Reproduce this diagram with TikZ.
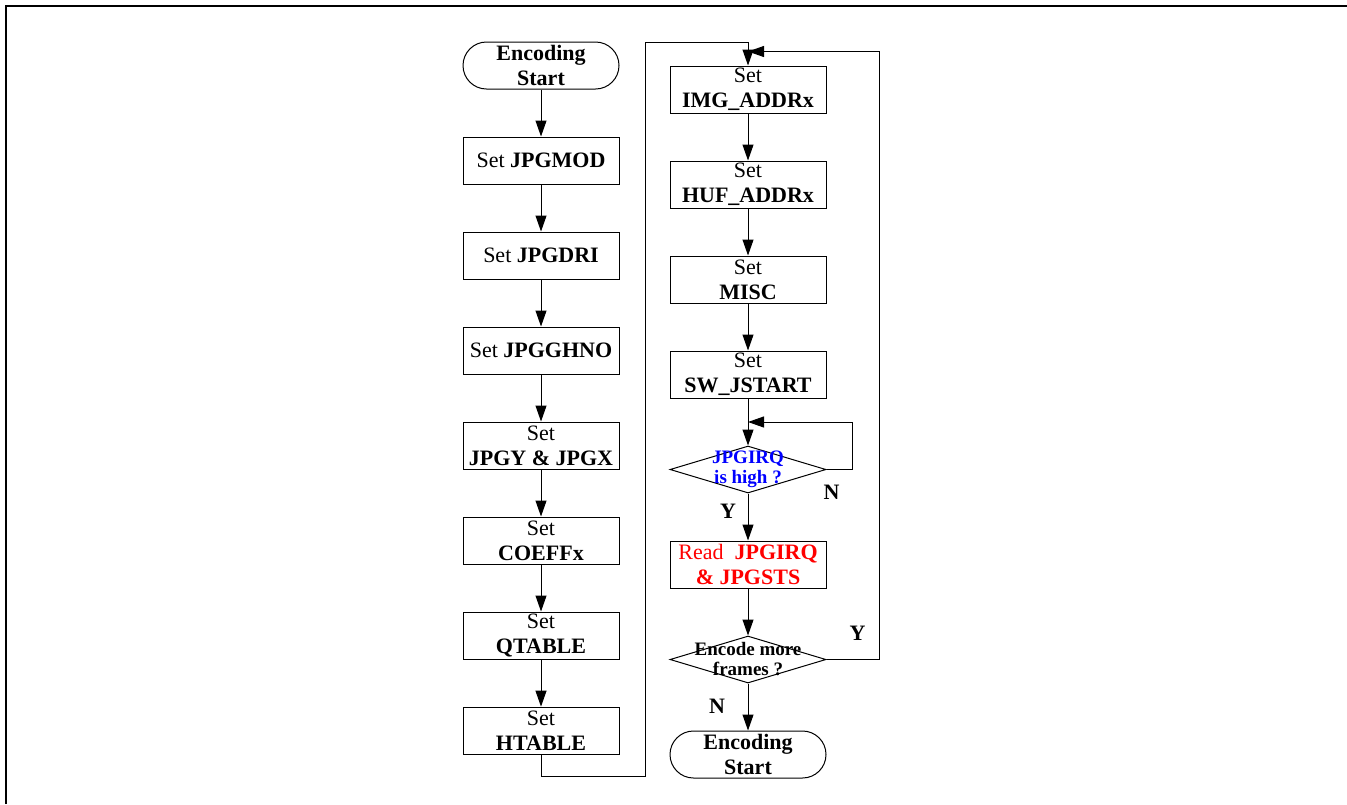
\documentclass[tikz,border=0pt]{standalone}
\usepackage{fontspec}
\setmainfont{Liberation Serif}
\usepackage{xcolor}
\usetikzlibrary{arrows.meta, shapes.geometric, positioning, calc}

\begin{document}
\begin{tikzpicture}[x=0.5pt, y=-0.5pt,
      box/.style={draw, line width=0.5pt, align=center, inner sep=1pt,
                  minimum width=78pt, minimum height=23.5pt,
                  font=\fontsize{11}{12.5}\selectfont},
      term/.style={box, rounded corners=11.75pt, font=\fontsize{11}{12.5}\selectfont\bfseries},
      dec/.style={draw, line width=0.5pt, diamond, inner sep=0pt,
                  minimum width=78pt, minimum height=23.5pt},
      qtext/.style={align=center, inner sep=0pt, font=\fontsize{9.5}{10}\selectfont\bfseries},
      lab/.style={font=\fontsize{11}{12}\selectfont\bfseries, inner sep=0pt},
      arr/.style={line width=0.5pt, -{Triangle[length=8pt, width=5.5pt]}},
      node distance=23.5pt]
    \useasboundingbox (0,0) rectangle (1347,804);
    \draw[line width=1pt] (6,804) |- (1347,6);
    % left column
    \node[term] (start) at (541,65.5) {Encoding\\Start};
    \node[box, below=of start] (jmod) {Set \textbf{JPGMOD}};
    \node[box, below=of jmod] (jdri) {Set \textbf{JPGDRI}};
    \node[box, below=of jdri] (jghno) {Set \textbf{JPGGHNO}};
    \node[box, below=of jghno] (jxy) {Set\\\textbf{JPGY \& JPGX}};
    \node[box, below=of jxy] (coeff) {Set\\\textbf{COEFFx}};
    \node[box, below=of coeff] (qtab) {Set\\\textbf{QTABLE}};
    \node[box, below=of qtab] (htab) {Set\\\textbf{HTABLE}};
    % right column
    \node[box] (img) at (748,89.5) {Set\\\textbf{IMG\_ADDRx}};
    \node[box, below=of img] (huf) {Set\\\textbf{HUF\_ADDRx}};
    \node[box, below=of huf] (misc) {Set\\\textbf{MISC}};
    \node[box, below=of misc] (swjs) {Set\\\textbf{SW\_JSTART}};
    \node[dec, below=of swjs] (irq) {};
    \node[qtext, text=blue] (irqt) at (irq) {JPGIRQ\\is high ?};
    \node[box, below=of irq, text=red] (rd) {Read\ \ \textbf{JPGIRQ}\\\textbf{\& JPGSTS}};
    \node[dec, below=of rd] (more) {};
    \node[qtext] (moret) at (more) {Encode more\\frames ?};
    \node[term, below=of more] (stop) {Encoding\\Start};
    % labels
    \node[lab] (irqn) at ($(irq.east)+(5,23)$) {N};
    \node[lab] (irqy) at ($(irq.south)+(-20,18)$) {Y};
    \node[lab] (morey) at ($(more.east)+(31,-26)$) {Y};
    \node[lab] (moren) at ($(more.south)+(-31,23)$) {N};
    % arrows
    \draw[arr] (start) -- (jmod);
    \draw[arr] (jmod) -- (jdri);
    \draw[arr] (jdri) -- (jghno);
    \draw[arr] (jghno) -- (jxy);
    \draw[arr] (jxy) -- (coeff);
    \draw[arr] (coeff) -- (qtab);
    \draw[arr] (qtab) -- (htab);
    \coordinate (lowturn) at (645,776);
    \coordinate (topturn) at (645,42);
    \draw[arr] (htab.south) |- (lowturn) -- (topturn) -| (img.north);
    \draw[arr] (img) -- (huf);
    \draw[arr] (huf) -- (misc);
    \draw[arr] (misc) -- (swjs);
    \draw[arr] (swjs) -- (irq);
    \coordinate (loopin) at ($(swjs.south)!0.5!(irq.north)$);
    \draw[arr] (irq.east) -- ++(26,0) |- (loopin);
    \draw[arr] (irq) -- (rd);
    \draw[arr] (rd) -- (more);
    \coordinate (backin) at ($(img.north)+(0,-14)$);
    \draw[arr] (more.east) -- ++(53,0) |- (backin);
    \draw[arr] (more) -- (stop);
  \end{tikzpicture}
\end{document}
